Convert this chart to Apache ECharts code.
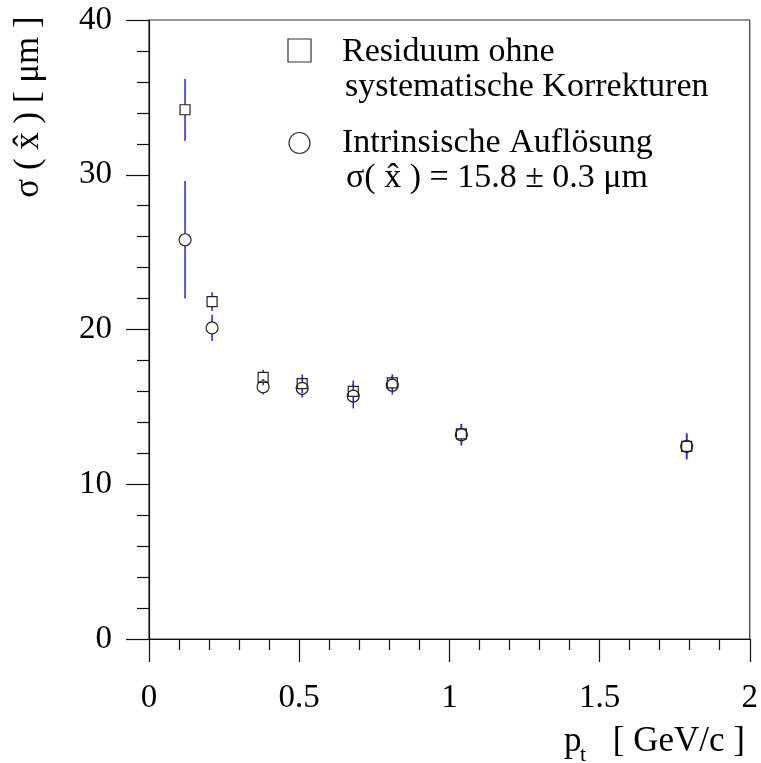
<!DOCTYPE html>
<html>
<head>
    <meta charset="utf-8">
    <title>sigma vs pt</title>
    <script src="https://cdn.jsdelivr.net/npm/echarts@6/dist/echarts.min.js"></script>
    <style>
        html, body { margin: 0; padding: 0; background: #fff; }
    </style>
</head>
<body>
<div id="main" style="width: 761px;height:763px;"></div>
<script type="text/javascript">
    // data
    var pt = [0.12, 0.21, 0.38, 0.51, 0.68, 0.81, 1.04, 1.79];
    var residuum = [34.2, 21.8, 16.9, 16.5, 16.0, 16.55, 13.25, 12.45];
    var residuumErr = [2.0, 0.6, 0.5, 0.6, 0.7, 0.55, 0.65, 0.8];
    var intrinsic = [25.8, 20.1, 16.3, 16.2, 15.7, 16.4, 13.2, 12.45];
    var intrinsicErr = [3.8, 0.85, 0.5, 0.6, 0.8, 0.6, 0.7, 0.85];
    var xTicks = ['0', '0.5', '1', '1.5', '2'];
    var yTicks = ['0', '10', '20', '30', '40'];

    var serif = 'Liberation Serif';
    var myChart = echarts.init(document.getElementById('main'));

    function points(ys) {
        return pt.map(function (x, i) { return [x, ys[i]]; });
    }
    function errPoints(ys, es) {
        return pt.map(function (x, i) { return [x, ys[i], es[i]]; });
    }
    // vertical error bar, interrupted where the marker sits
    function errorBar(gap) {
        return function (params, api) {
            var c = api.coord([api.value(0), api.value(1)]);
            var hi = api.coord([api.value(0), api.value(1) + api.value(2)]);
            var lo = api.coord([api.value(0), api.value(1) - api.value(2)]);
            var style = {stroke: '#1f1fff', lineWidth: 1.5};
            var kids = [];
            if (c[1] - gap > hi[1]) {
                kids.push({type: 'line', shape: {x1: c[0], y1: hi[1], x2: c[0], y2: c[1] - gap}, style: style});
            }
            if (lo[1] > c[1] + gap) {
                kids.push({type: 'line', shape: {x1: c[0], y1: c[1] + gap, x2: c[0], y2: lo[1]}, style: style});
            }
            return {type: 'group', children: kids};
        };
    }

    var axisLine = {lineStyle: {color: '#111', width: 1.2}};
    var labelStyle = {color: '#000', fontFamily: serif, fontSize: 33};

    function txt(x, y, s, size, extra) {
        var style = {text: s, fontFamily: serif, fontSize: size, fill: '#000', verticalAlign: 'middle'};
        for (var k in extra) style[k] = extra[k];
        return {type: 'text', x: x, y: y, style: style};
    }

    myChart.setOption({
        animation: false,
        backgroundColor: '#fff',
        grid: {
            left: 149, right: 9, top: 20, bottom: 124,
            show: true, borderColor: '#333', borderWidth: 1.2
        },
        xAxis: {
            type: 'value', min: 0, max: 2, interval: 0.5,
            axisLine: axisLine,
            axisTick: {length: 23, lineStyle: {color: '#111', width: 1.2}},
            minorTick: {show: true, splitNumber: 5, length: 11, lineStyle: {color: '#111', width: 1.2}},
            splitLine: {show: false},
            axisLabel: Object.assign({
                margin: 43,
                formatter: function (v) { return xTicks[Math.round(v / 0.5)]; }
            }, labelStyle)
        },
        yAxis: {
            type: 'value', min: 0, max: 40, interval: 10,
            axisLine: axisLine,
            axisTick: {length: 23, lineStyle: {color: '#111', width: 1.2}},
            minorTick: {show: true, splitNumber: 5, length: 12, lineStyle: {color: '#111', width: 1.2}},
            splitLine: {show: false},
            axisLabel: Object.assign({
                margin: 37,
                formatter: function (v) { return yTicks[Math.round(v / 10)]; }
            }, labelStyle)
        },
        series: [
            {
                type: 'custom', name: 'errR', z: 1,
                renderItem: errorBar(5),
                data: errPoints(residuum, residuumErr)
            },
            {
                type: 'custom', name: 'errI', z: 1,
                renderItem: errorBar(6),
                data: errPoints(intrinsic, intrinsicErr)
            },
            {
                type: 'scatter', name: 'Residuum', z: 3,
                symbol: 'rect', symbolSize: 10,
                itemStyle: {color: 'rgba(0,0,0,0)', borderColor: '#222', borderWidth: 1.2, opacity: 1},
                data: points(residuum)
            },
            {
                type: 'scatter', name: 'Intrinsisch', z: 3,
                symbol: 'circle', symbolSize: 12,
                itemStyle: {color: 'rgba(0,0,0,0)', borderColor: '#222', borderWidth: 1.2, opacity: 1},
                data: points(intrinsic)
            }
        ],
        graphic: [
            // legend
            {type: 'rect', shape: {x: 288, y: 39, width: 23, height: 23},
                style: {fill: 'none', stroke: '#333', lineWidth: 1.2}},
            {type: 'circle', shape: {cx: 299.5, cy: 143, r: 10.5},
                style: {fill: 'none', stroke: '#333', lineWidth: 1.2}},
            txt(342, 52, 'Residuum ohne', 34),
            txt(345, 87, 'systematische Korrekturen', 34),
            txt(342, 143, 'Intrinsische Auflösung', 34),
            txt(346, 178, 'σ( x\u0302 ) = 15.8 ± 0.3 μm', 34),
            // axis titles
            {type: 'text', x: 29, y: 107, rotation: Math.PI / 2,
                style: {text: 'σ ( x\u0302 ) [ μm ]', fontFamily: serif, fontSize: 35, fill: '#000',
                    align: 'center', verticalAlign: 'middle'}},
            txt(564, 742, 'p', 35),
            txt(580, 755, 't', 22),
            txt(745, 742, '[ GeV/c ]', 35, {align: 'right'})
        ]
    });
</script>
</body>
</html>
